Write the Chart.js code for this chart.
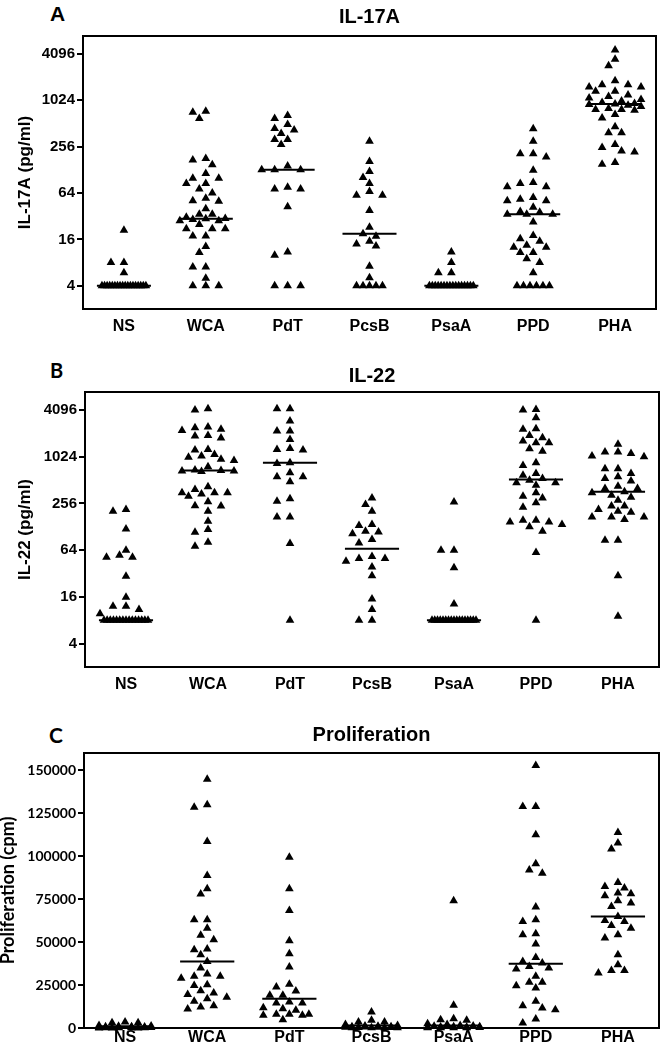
<!DOCTYPE html>
<html>
<head>
<meta charset="utf-8">
<script src="https://cdn.jsdelivr.net/npm/chart.js@4.4.1/dist/chart.umd.min.js"></script>
<style>
  body { margin: 0; background: #fff; width: 664px; height: 1050px; position: relative; overflow: hidden; }
  .panel { position: absolute; left: 0; width: 664px; }
  .tag { position: absolute; color: #000; }
</style>
</head>
<body>
<div class="tag" style="left:50px;top:3px;font:bold 21px/1 'Liberation Sans',Arial,sans-serif">A</div>
<div class="tag" style="left:50px;top:360px;font:bold 20px/1 Lato,sans-serif">B</div>
<div class="tag" style="left:49px;top:724px;font:bold 21px/1 Lato,sans-serif">C</div>

<div class="panel" style="top:0;height:345px"><canvas id="il17" width="664" height="345"></canvas></div>
<div class="panel" style="top:357px;height:345px"><canvas id="il22" width="664" height="345"></canvas></div>
<div class="panel" style="top:715px;height:335px"><canvas id="prolif" width="664" height="335"></canvas></div>

<script>
const categories = ['NS', 'WCA', 'PdT', 'PcsB', 'PsaA', 'PPD', 'PHA'];
const logTicks = [4, 16, 64, 256, 1024, 4096];
const prolifTicks = [0, 25000, 50000, 75000, 100000, 125000, 150000];

// IL-17A (pg/ml), one array per stimulus
const il17NS = [21, 8, 8, 5.9, 4, 4, 4, 4, 4, 4, 4, 4, 4, 4, 4, 4, 4, 4, 4, 4, 4, 4];
const il17WCA = [739, 717, 594, 180, 172, 149, 115, 100, 100, 85, 85, 72, 64, 55, 51, 50, 40, 34, 34, 31,
  30, 29.6, 29, 28, 28, 25, 22, 22, 22, 17.7, 17.7, 13, 10.8, 7, 7, 5, 4, 4, 4];
const il17PdT = [648, 594, 498, 441, 420, 380, 318, 318, 274, 144, 128, 128, 128, 76, 72, 72, 42.6, 11, 10, 4, 4, 4];
const il17PcsB = [302, 164, 122, 102, 85, 67, 60, 60, 38, 23, 19, 17.6, 15.2, 14, 13.1, 7.2, 5.1, 4, 4, 4, 4, 4];
const il17PsaA = [11, 8, 5.9, 5.9, 4, 4, 4, 4, 4, 4, 4, 4, 4, 4, 4, 4, 4, 4, 4, 4];
const il17PPD = [437, 302, 208, 208, 188, 127, 88, 85, 77, 77, 56, 53, 51, 51, 42, 37, 36, 34, 34, 34,
  27, 18, 16.3, 15.2, 13.4, 12.7, 12.7, 10.8, 10.8, 9, 8, 5.9, 4, 4, 4, 4, 4, 4];
const il17PHA = [4600, 3490, 2870, 1840, 1630, 1630, 1520, 1520, 1340, 1340, 1200, 1150, 1100, 1050, 1000, 960,
  930, 917, 900, 880, 850, 800, 776, 776, 760, 670, 605, 464, 388, 388, 274, 249, 225, 218, 159, 151];
const il17Medians = [4, 29.6, 128, 19, 4, 34, 917];

// IL-22 (pg/ml)
const il22NS = [214, 204, 120, 64, 55, 52, 52, 29.6, 15.9, 12.1, 12.1, 11, 9.7,
  8, 8, 8, 8, 8, 8, 8, 8, 8, 8, 8, 8, 8, 8, 8];
const il22WCA = [4270, 4096, 2470, 2420, 2310, 2240, 1930, 1890, 1790, 1270, 1250, 1096, 1045, 1013, 949, 917,
  760, 690, 680, 670, 670, 660, 420, 388, 352, 352, 352, 340, 318, 270, 240, 237, 204, 151, 118, 109, 81, 72];
const il22PdT = [4270, 4270, 2950, 2200, 2200, 1710, 1310, 1270, 1250, 855, 840, 636, 565, 565, 487, 294, 274, 172, 172, 78, 8];
const il22PcsB = [302, 249, 204, 137, 133, 112, 110, 104, 88, 79, 53, 50, 50, 46, 39, 30, 15, 11, 8, 8];
const il22PsaA = [267, 64, 64, 38, 13, 8, 8, 8, 8, 8, 8, 8, 8, 8, 8, 8, 8, 8, 8, 8, 8, 8];
const il22PPD = [4180, 4096, 3260, 2350, 2310, 1930, 1800, 1630, 1550, 1550, 1300, 1210, 855, 790, 625, 594, 537,
  512, 474, 474, 441, 352, 318, 302, 261, 229, 156, 156, 148, 148, 137, 128, 112, 60, 8];
const il22PHA = [1480, 1180, 1180, 1130, 1045, 1024, 717, 717, 625, 565, 537, 498, 428, 400, 400, 362, 352,
  328, 309, 282, 237, 237, 214, 204, 198, 172, 172, 172, 159, 86, 86, 30, 9];
const il22Medians = [8, 680, 855, 67, 8, 522, 362];

// Proliferation (cpm)
const prolifNS = [3500, 3000, 3000, 1500, 1200, 1000, 800, 700, 600, 500, 400, 300, 300, 200, 200, 100, 100, 50, 50, 0];
const prolifWCA = [144800, 129850, 128500, 108500, 88760, 81000, 77900, 63000, 63000, 58100, 53900, 51360, 45930,
  45540, 42640, 38760, 34880, 31400, 30040, 30040, 29000, 25190, 24800, 21700, 20350, 19500, 17830, 17050, 15500,
  13000, 12200, 11000];
const prolifPdT = [99400, 81000, 68400, 50800, 43200, 35500, 25400, 23900, 21500, 19000, 19000, 15100, 14550, 14550,
  11800, 11250, 10300, 7950, 7950, 7950, 7370, 7370, 4850];
const prolifPcsB = [9300, 4460, 3500, 3500, 2000, 1500, 1200, 1000, 800, 700, 600, 500, 400, 300, 300, 200, 200, 100, 100];
const prolifPsaA = [74000, 13200, 5400, 4850, 4460, 2500, 2000, 1500, 1200, 1000, 800, 700, 600, 500, 400, 300, 200, 200, 100, 100];
const prolifPPD = [152700, 128900, 128900, 112400, 95500, 92000, 90100, 70350, 63000, 62000, 54800, 54260, 48840,
  41090, 38760, 37790, 35850, 34880, 34300, 30040, 26550, 26550, 24600, 23260, 15500, 12980, 11630, 10660, 5230, 2900];
const prolifPHA = [113800, 107600, 104100, 84700, 82400, 81400, 78500, 78100, 76900, 74000, 72700, 70700, 64900,
  62600, 62000, 59700, 58100, 54300, 52300, 42600, 36800, 33500, 33500, 32000];
const prolifMedians = [1000, 38760, 17070, 1500, 1500, 37400, 64900];

const ARIAL = "'Liberation Sans', Arial, sans-serif";
const CALIBRI = "Lato, 'Liberation Sans', sans-serif";
const CAT_PX = 82;   // pixels per category
const STEP = 6.5;    // horizontal slot spacing of the dots

// lay dots out side by side like a prism scatter (no random jitter)
function swarm(values, toPx) {
  const off = new Array(values.length).fill(0);
  const placed = [];
  const counts = {};
  values.forEach(v => { counts[v] = (counts[v] || 0) + 1; });
  // big groups of equal values -> packed row
  Object.keys(counts).forEach(k => {
    const n = counts[k];
    if (n < 4) return;
    const s = Math.min(STEP, 44 / (n - 1));
    let j = 0;
    values.forEach((v, i) => {
      if (String(v) === k) {
        off[i] = (j - (n - 1) / 2) * s;
        placed.push({ x: off[i], y: toPx(v) });
        j++;
      }
    });
  });
  const slots = [0];
  for (let k = 1; k <= 4; k++) slots.push(-k, k);
  const order = values.map((v, i) => i).filter(i => counts[values[i]] < 4).sort((a, b) => values[b] - values[a]);
  order.forEach(i => {
    const py = toPx(values[i]);
    let best = 0, bestScore = Infinity;
    for (const k of slots) {
      const px = k * STEP;
      let score = 0;
      placed.forEach(p => {
        const d = ((p.x - px) / 8.5) ** 2 + ((p.y - py) / 7.5) ** 2;
        if (d < 1) score += 1 - d;
      });
      if (score < bestScore) { bestScore = score; best = px; }
      if (score === 0) break;
    }
    off[i] = best;
    placed.push({ x: best, y: py });
  });
  return off;
}

function dots(groups, toPx) {
  const pts = [];
  groups.forEach((vals, i) => {
    const off = swarm(vals, toPx);
    vals.forEach((v, j) => pts.push({ x: i + off[j] / CAT_PX, y: v }));
  });
  return pts;
}

function medianLine(meds) {
  const d = [];
  meds.forEach((m, i) => { d.push({ x: i - 0.33, y: m }, { x: i + 0.33, y: m }, { x: i, y: null }); });
  return d;
}

const frame = {
  id: 'frame',
  beforeDatasetsDraw(chart) {
    const { ctx, chartArea: a } = chart;
    ctx.save();
    ctx.strokeStyle = '#000';
    ctx.lineWidth = 2;
    ctx.strokeRect(a.left, a.top, a.right - a.left, a.bottom - a.top);
    ctx.restore();
  }
};

function panel(id, o) {
  new Chart(document.getElementById(id), {
    type: 'scatter',
    data: {
      datasets: [
        { data: o.points, pointStyle: 'triangle', pointRadius: 5, pointHoverRadius: 5,
          backgroundColor: '#000', borderColor: '#000', borderWidth: 0, clip: false },
        { data: medianLine(o.medians), showLine: true, pointRadius: 0, borderColor: '#000',
          borderWidth: 2, spanGaps: false, clip: false }
      ]
    },
    options: {
      responsive: false,
      animation: false,
      devicePixelRatio: 1,
      layout: { padding: { left: 0, right: o.padRight, top: 0, bottom: 0 } },
      plugins: {
        legend: { display: false },
        tooltip: { enabled: false },
        title: { display: true, text: o.title, color: '#000', fullSize: false,
          font: { family: ARIAL, size: 20, weight: 'bold', lineHeight: 1.2 }, padding: o.titlePad }
      },
      scales: {
        x: {
          type: 'linear', min: -0.5, max: 6.5,
          afterBuildTicks: s => { s.ticks = categories.map((c, i) => ({ value: i })); },
          afterFit: s => { s.height = o.xHeight; },
          ticks: { callback: v => categories[v], color: '#000', padding: o.xPad, maxRotation: 0, autoSkip: false,
            font: { family: ARIAL, size: 16, weight: 'bold' } },
          grid: { display: false, drawTicks: false },
          border: { display: true, color: '#000', width: 2 }
        },
        y: {
          type: o.yType, min: o.yMin, max: o.yMax,
          afterBuildTicks: s => { s.ticks = o.yTicks.map(v => ({ value: v })); },
          afterFit: s => { s.width = o.yWidth; },
          ticks: { callback: v => String(v), color: '#000', padding: 2, autoSkip: false,
            font: { family: o.tickFont, size: o.tickSize, weight: 'bold' } },
          grid: { drawOnChartArea: false, tickLength: 6, color: '#000', lineWidth: 2 },
          border: { display: true, color: '#000', width: 2 },
          title: { display: true, text: o.yTitle, color: '#000',
            font: { family: o.yTitleFont, size: o.yTitleSize, weight: 'bold', lineHeight: o.yTitleLH },
            padding: { top: o.yTitlePad, bottom: 0 } }
        }
      }
    },
    plugins: [frame]
  });
}

const logPx = v => -Math.log2(v) * 23.3;
const linPx = v => -v / 582;

panel('il17', {
  title: 'IL-17A', titlePad: { top: 5, bottom: 7 },
  points: dots([il17NS, il17WCA, il17PdT, il17PcsB, il17PsaA, il17PPD, il17PHA], logPx),
  medians: il17Medians,
  padRight: 8, xHeight: 36, xPad: 8,
  yType: 'logarithmic', yMin: 2, yMax: 7000, yTicks: logTicks, yWidth: 83,
  tickFont: ARIAL, tickSize: 15,
  yTitle: 'IL-17A (pg/ml)', yTitleFont: ARIAL, yTitleSize: 17, yTitleLH: 1.2, yTitlePad: 15
});

panel('il22', {
  title: 'IL-22', titlePad: { top: 7.5, bottom: 3.5 },
  points: dots([il22NS, il22WCA, il22PdT, il22PcsB, il22PsaA, il22PPD, il22PHA], logPx),
  medians: il22Medians,
  padRight: 2, xHeight: 35, xPad: 8,
  yType: 'logarithmic', yMin: 2, yMax: 7000, yTicks: logTicks, yWidth: 85,
  tickFont: ARIAL, tickSize: 15,
  yTitle: 'IL-22 (pg/ml)', yTitleFont: ARIAL, yTitleSize: 17, yTitleLH: 1.2, yTitlePad: 15
});

panel('prolif', {
  title: 'Proliferation', titlePad: { top: 8.5, bottom: 5.5 },
  points: dots([prolifNS, prolifWCA, prolifPdT, prolifPcsB, prolifPsaA, prolifPPD, prolifPHA], linPx),
  medians: prolifMedians,
  padRight: 2, xHeight: 22, xPad: 0,
  yType: 'linear', yMin: 0, yMax: 160000, yTicks: prolifTicks, yWidth: 84,
  tickFont: CALIBRI, tickSize: 14,
  yTitle: 'Proliferation (cpm)', yTitleFont: CALIBRI, yTitleSize: 18, yTitleLH: 1, yTitlePad: -1
});
</script>
</body>
</html>
